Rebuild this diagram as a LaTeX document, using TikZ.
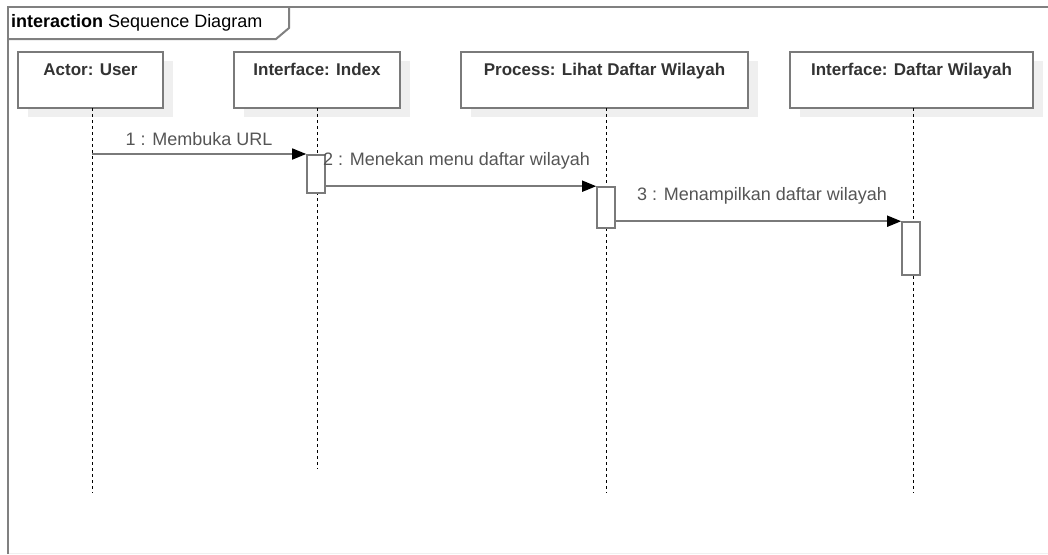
\documentclass[tikz,border=0pt]{standalone}
\usepackage{fontspec}
\setmainfont{Liberation Sans}
\usetikzlibrary{arrows.meta}
\definecolor{framegray}{HTML}{808080}
\definecolor{boxgray}{HTML}{7A7A7A}
\definecolor{shadowgray}{HTML}{EFEFEF}
\definecolor{titlegray}{HTML}{333333}
\definecolor{msggray}{HTML}{555555}
\begin{document}
\begin{tikzpicture}[x=1pt,y=-1pt,
  frameline/.style={draw=framegray,line width=2pt},
  lifebox/.style={draw=boxgray,line width=1.6pt,fill=white,minimum height=56pt,inner sep=0pt},
  boxshadow/.style={fill=shadowgray,draw=none},
  headtext/.style={font=\fontsize{17}{19}\selectfont\bfseries,text=titlegray,anchor=base,inner sep=0pt,yshift=-24pt},
  lifeline/.style={draw=black,line width=0.9pt,dash pattern=on 3pt off 3pt},
  activation/.style={draw=boxgray,line width=1.6pt,fill=white,minimum width=18pt,inner sep=0pt},
  msg/.style={draw=boxgray,line width=1.6pt,-{Triangle[length=14pt,width=11pt,fill=black,color=black]}},
  msglabel/.style={font=\fontsize{18}{20}\selectfont,text=msggray,inner sep=0pt}
]
\useasboundingbox (0,0) rectangle (1048,554);
\fill[white] (0,0) rectangle (1048,554);

% interaction frame and its name tag
\draw[draw=black!6,line width=1pt] (8,553) -- (1048,553);
\draw[frameline] (8,554) -- (8,7) -- (1048,7);
\draw[frameline] (8,39) -- (276,39) -- (289,28) -- (289,7);
\node[anchor=west,inner sep=0pt,font=\fontsize{18}{20}\selectfont,text=black] (tag) at (11,22.5)
  {\textbf{interaction} Sequence Diagram};

% lifeline heads (shadow first, then the box)
\fill[boxshadow] (28,61) rectangle (173,117);
\fill[boxshadow] (244,61) rectangle (410,117);
\fill[boxshadow] (471,61) rectangle (758,117);
\fill[boxshadow] (800,61) rectangle (1043,117);

\node[lifebox,minimum width=145pt] (user) at (90.5,80) {};
\node[headtext] (userT) at (user.north) {Actor: User};
\node[lifebox,minimum width=166pt] (index) at (317,80) {};
\node[headtext] (indexT) at (index.north) {Interface: Index};
\node[lifebox,minimum width=287pt] (proc) at (604.5,80) {};
\node[headtext] (procT) at (proc.north) {Process: Lihat Daftar Wilayah};
\node[lifebox,minimum width=243pt] (daftar) at (911.5,80) {};
\node[headtext] (daftarT) at (daftar.north) {Interface: Daftar Wilayah};

% lifeline ends
\coordinate (userEnd) at (92,493);
\coordinate (indexEnd) at (317,469);
\coordinate (procEnd) at (606,493);
\coordinate (daftarEnd) at (913,493);

\draw[lifeline] (92,108) -- (userEnd);
\draw[lifeline] (317,108) -- (indexEnd);
\draw[lifeline] (606,108) -- (procEnd);
\draw[lifeline] (913,108) -- (daftarEnd);

% activation bars
\node[activation,minimum height=38pt] (act1) at (316,174) {};
\node[activation,minimum height=41pt] (act2) at (606,207.5) {};
\node[activation,minimum height=53pt] (act3) at (911,248.5) {};

% messages
\coordinate (m1start) at (92,154);
\draw[msg] (m1start) -- (act1.north west |- m1start);
\node[msglabel] (m1) at (199,139) {1 : Membuka URL};

\coordinate (m2start) at (act1.east |- act2.north);
\draw[msg] (m2start) -- (act2.north west);
\node[msglabel,anchor=west] (m2) at (323,161) {2 : Menekan menu daftar wilayah};

\coordinate (m3start) at (act2.east |- act3.north);
\draw[msg] (m3start) -- (act3.north west);
\node[msglabel] (m3) at (762,196) {3 : Menampilkan daftar wilayah};
\end{tikzpicture}
\end{document}
